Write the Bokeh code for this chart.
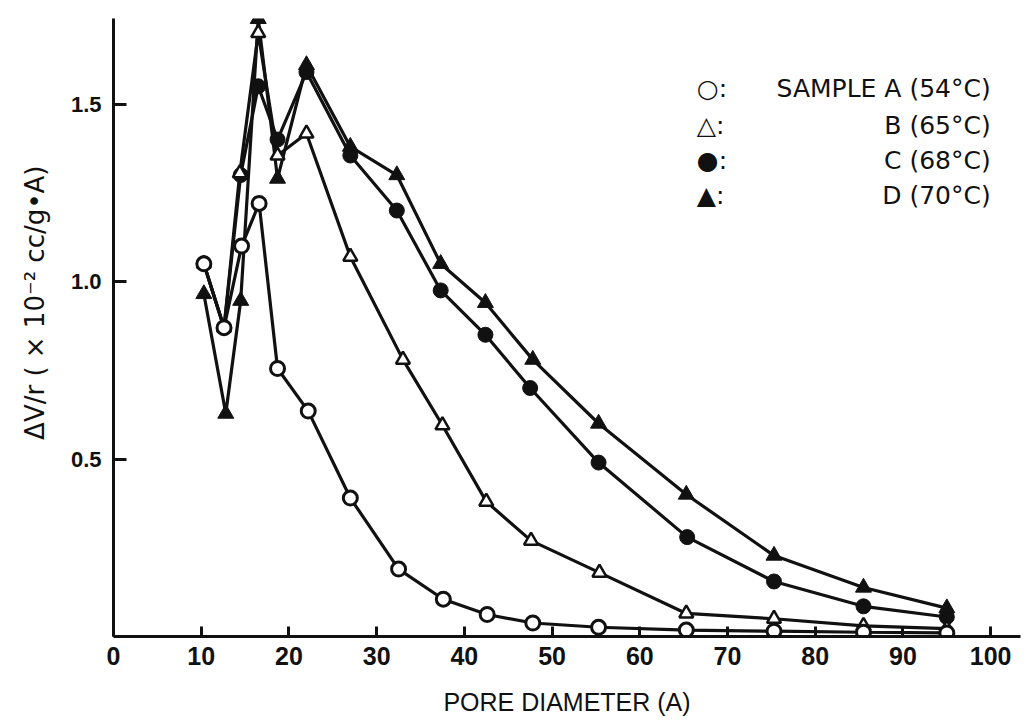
from bokeh.plotting import figure
from bokeh.models import FixedTicker, Range1d, Label, NumeralTickFormatter
from bokeh.embed import file_html
from bokeh.resources import INLINE

# ---- data ----
pore_a = [10.3, 12.6, 14.6, 16.6, 18.7, 22.2, 27.0, 32.5, 37.6, 42.6, 47.8, 55.3, 65.3, 75.3, 85.5, 95.0]
dv_a = [1.05, 0.87, 1.10, 1.22, 0.755, 0.635, 0.39, 0.19, 0.105, 0.062, 0.038, 0.026, 0.018, 0.015, 0.012, 0.010]

pore_b = [10.3, 12.6, 14.4, 16.5, 18.7, 22.0, 27.0, 33.0, 37.5, 42.5, 47.6, 55.4, 65.3, 75.3, 85.5, 95.0]
dv_b = [1.05, 0.87, 1.305, 1.70, 1.355, 1.417, 1.07, 0.78, 0.595, 0.38, 0.27, 0.18, 0.065, 0.05, 0.03, 0.022]

pore_c = [10.3, 12.6, 14.5, 16.5, 18.7, 22.0, 27.0, 32.3, 37.3, 42.4, 47.5, 55.3, 65.4, 75.3, 85.5, 95.0]
dv_c = [1.05, 0.87, 1.30, 1.55, 1.40, 1.59, 1.355, 1.20, 0.975, 0.85, 0.70, 0.49, 0.28, 0.155, 0.085, 0.055]

pore_d = [10.3, 12.8, 14.5, 16.5, 18.7, 22.0, 27.0, 32.3, 37.3, 42.4, 47.8, 55.3, 65.3, 75.3, 85.5, 95.0]
dv_d = [0.965, 0.628, 0.946, 1.74, 1.29, 1.61, 1.38, 1.30, 1.05, 0.94, 0.78, 0.60, 0.40, 0.228, 0.138, 0.08]

x_ticks = [0, 10, 20, 30, 40, 50, 60, 70, 80, 90, 100]
y_ticks = [0.5, 1.0, 1.5]

legend_symbols = ["\u25cb:", "\u25b3:", "\u25cf:", "\u25b2:"]
legend_texts = ["SAMPLE A (54\u00b0C)", "B (65\u00b0C)", "C (68\u00b0C)", "D (70\u00b0C)"]

x_title = "PORE DIAMETER (A)"
y_title = "\u00a0" * 6 + "\u0394V/r ( \u00d7 10\u207b\u00b2 cc/g\u2022A)"

# ---- figure ----
p = figure(width=1022, height=720, output_backend="svg", toolbar_location=None,
           x_range=Range1d(0, 103.4), y_range=Range1d(0, 1.741),
           min_border_left=113, min_border_right=2, min_border_top=18, min_border_bottom=84)
p.outline_line_color = None
p.grid.visible = False
p.background_fill_color = "white"

INK = "#111111"

# axes
p.xaxis.ticker = FixedTicker(ticks=x_ticks)
p.yaxis.ticker = FixedTicker(ticks=y_ticks)
p.yaxis.formatter = NumeralTickFormatter(format="0.0")
for ax in (p.xaxis, p.yaxis):
    ax.axis_line_width = 3
    ax.axis_line_color = INK
    ax.major_tick_line_width = 3
    ax.major_tick_line_color = INK
    ax.major_tick_out = 0
    ax.minor_tick_line_color = None
    ax.major_label_text_color = INK
    ax.axis_label_text_color = INK
    ax.axis_label_text_font_style = "normal"
p.xaxis.major_tick_in = 10
p.yaxis.major_tick_in = 13
p.xaxis.major_label_text_font = "Liberation Sans"
p.xaxis.major_label_text_font_size = "25px"
p.xaxis.major_label_text_font_style = "bold"
p.xaxis.major_label_standoff = 10
p.yaxis.major_label_text_font = "Liberation Sans"
p.yaxis.major_label_text_font_size = "22px"
p.yaxis.major_label_text_font_style = "bold"
p.yaxis.major_label_standoff = 12
p.xaxis.axis_label = x_title
p.xaxis.axis_label_text_font = "Liberation Sans"
p.xaxis.axis_label_text_font_size = "25px"
p.xaxis.axis_label_standoff = 20
p.yaxis.axis_label = y_title
p.yaxis.axis_label_text_font = "DejaVu Sans"
p.yaxis.axis_label_text_font_size = "26px"
p.yaxis.axis_label_standoff = 18

# series lines
LW = 3.2
p.line(pore_a, dv_a, line_color=INK, line_width=LW)
p.line(pore_b, dv_b, line_color=INK, line_width=LW)
p.line(pore_c, dv_c, line_color=INK, line_width=LW)
p.line(pore_d, dv_d, line_color=INK, line_width=LW)

# markers: filled first, open on top
p.scatter(pore_c, dv_c, marker="circle", size=15, line_color=INK, line_width=1, fill_color=INK)
p.scatter(pore_d, dv_d, marker="triangle", size=16, line_color=INK, line_width=1, fill_color=INK)
p.scatter(pore_b, dv_b, marker="triangle", size=14, line_color=INK, line_width=2.5, fill_color="white")
p.scatter(pore_a, dv_a, marker="circle", size=14, line_color=INK, line_width=3, fill_color="white")

# legend (text block, upper right)
legend_y = [1.544, 1.439, 1.341, 1.242]
for sym, txt, yy in zip(legend_symbols, legend_texts, legend_y):
    p.add_layout(Label(x=66.5, y=yy, text=sym, text_font="DejaVu Sans", text_font_size="25px",
                       text_baseline="middle", text_align="left", text_color=INK))
    p.add_layout(Label(x=100.0, y=yy, text=txt, text_font="DejaVu Sans", text_font_size="25px",
                       text_baseline="middle", text_align="right", text_color=INK))

open("out.html", "w").write(file_html(p, INLINE))
